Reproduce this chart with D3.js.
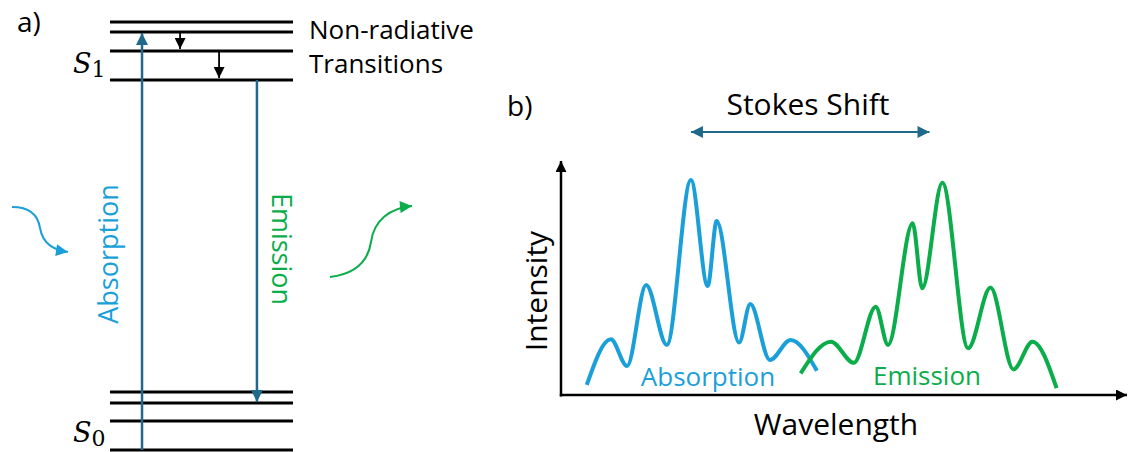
<!DOCTYPE html>
<html>
<head>
<meta charset="utf-8">
<script src="https://cdn.jsdelivr.net/npm/d3@7"></script>
<style>
  body { margin: 0; background: #fff; }
  text { font-family: "Open Sans", "Noto Sans", sans-serif; }
</style>
</head>
<body>
<div id="wrapper"></div>
<script>
// energy levels (arbitrary energy units)
var s0Levels = [0, 29, 47, 58];
var s1Levels = [370, 399, 418, 428];
// transitions: x position (fraction of level width), from energy, to energy
var absorptionArrow = {x: 0.175, from: 0, to: 418};
var emissionArrow = {x: 0.803, from: 370, to: 47};
var nonRadiative = [
  {x: 0.383, from: 418, to: 399},
  {x: 0.596, from: 399, to: 370}
];

// spectra (wavelength, intensity), arbitrary units
var absWave = [4.6, 8.9, 11.8, 15.2, 18.9, 23.2, 26.2, 27.8, 31.8, 33.8, 37.3, 41.0, 45.7];
var absInt  = [4.3, 23.7, 12.3, 46.8, 21.3, 91.5, 46.4, 74.0, 22.3, 38.7, 14.9, 23.4, 10.3];
var emWave  = [42.8, 48.2, 52.3, 56.2, 58.4, 62.8, 64.5, 68.1, 72.7, 76.7, 80.8, 84.2, 88.5];
var emInt   = [9.2, 22.7, 13.7, 37.6, 21.3, 73.1, 45.4, 90.3, 19.9, 45.7, 10.9, 22.7, 2.9];
// Stokes shift between the two main peaks
var stokesShift = [23.2, 65.8];

var dark = '#1f6a8a', blue = '#1a9fd9', green = '#0aad4a';

var svg = d3.select('#wrapper').append('svg')
  .attr('width', 1128).attr('height', 452);

var defs = svg.append('defs');
function marker(id, color, w, h) {
  defs.append('marker')
    .attr('id', id).attr('viewBox', '0 0 10 10')
    .attr('refX', 10).attr('refY', 5)
    .attr('markerWidth', w).attr('markerHeight', h)
    .attr('markerUnits', 'userSpaceOnUse')
    .attr('orient', 'auto-start-reverse')
    .append('path').attr('d', 'M0,0L10,5L0,10z').attr('fill', color);
}
marker('arDark', dark, 13, 12);
marker('arBlack', '#000', 11, 11);
marker('arAxis', '#000', 12, 11);
marker('arBlue', blue, 13, 12);
marker('arGreen', green, 13, 12);

// ---------- panel a ----------
var ey = d3.scaleLinear().domain([0, 428]).range([450, 22]);
var lx = d3.scaleLinear().domain([0, 1]).range([110, 293]);

svg.append('g').selectAll('line')
  .data(s0Levels.concat(s1Levels)).enter().append('line')
  .attr('x1', lx(0)).attr('x2', lx(1))
  .attr('y1', function(d){ return ey(d); })
  .attr('y2', function(d){ return ey(d); })
  .style('stroke', '#000').style('stroke-width', '3px');

[absorptionArrow, emissionArrow].forEach(function(a){
  svg.append('line')
    .attr('x1', lx(a.x)).attr('x2', lx(a.x))
    .attr('y1', ey(a.from)).attr('y2', ey(a.to) + (a.to > a.from ? 1 : -1))
    .style('stroke', dark).style('stroke-width', '2.5px')
    .attr('marker-end', 'url(#arDark)');
});
nonRadiative.forEach(function(a){
  svg.append('line')
    .attr('x1', lx(a.x)).attr('x2', lx(a.x))
    .attr('y1', ey(a.from) + 1).attr('y2', ey(a.to) - 2)
    .style('stroke', '#000').style('stroke-width', '1.8px')
    .attr('marker-end', 'url(#arBlack)');
});

svg.append('text').attr('x', 17).attr('y', 32).text('a)')
  .style('font-size', '28px');
svg.append('text').attr('x', 309).attr('y', 39).text('Non-radiative')
  .style('font-size', '26px');
svg.append('text').attr('x', 309).attr('y', 73).text('Transitions')
  .style('font-size', '26px');

function stateLabel(sub, y) {
  var t = svg.append('text').attr('x', 73).attr('y', y)
    .style('font-family', '"DejaVu Serif", serif').style('font-size', '27px');
  t.append('tspan').text('S').style('font-style', 'italic');
  t.append('tspan').attr('dy', 4).text(sub).style('font-size', '22px');
}
stateLabel('1', 73);
stateLabel('0', 442);

svg.append('text')
  .attr('transform', 'translate(118,254) rotate(-90)')
  .attr('text-anchor', 'middle').text('Absorption')
  .style('font-size', '27px').style('fill', blue);
svg.append('text')
  .attr('transform', 'translate(272,249) rotate(90)')
  .attr('text-anchor', 'middle').text('Emission')
  .style('font-size', '27px').style('fill', green);

// wavy photon arrows
svg.append('path')
  .attr('d', 'M12,207 C30,207 38,215 40,228 C43,245 55,250 68,252')
  .style('fill', 'none').style('stroke', blue).style('stroke-width', '2px')
  .attr('marker-end', 'url(#arBlue)');
svg.append('path')
  .attr('d', 'M330,277 C355,274 368,262 371,242 C374,220 390,208 412,206')
  .style('fill', 'none').style('stroke', green).style('stroke-width', '2px')
  .attr('marker-end', 'url(#arGreen)');

// ---------- panel b ----------
var x = d3.scaleLinear().domain([0, 100]).range([561, 1121]);
var y = d3.scaleLinear().domain([0, 100]).range([395, 160]);

svg.append('line')
  .attr('x1', x(0)).attr('y1', y(0) + 1.5).attr('x2', x(0)).attr('y2', y(100) + 1)
  .style('stroke', '#000').style('stroke-width', '2.5px')
  .attr('marker-end', 'url(#arAxis)');
svg.append('line')
  .attr('x1', x(0) - 1.2).attr('y1', y(0)).attr('x2', x(100) + 6).attr('y2', y(0))
  .style('stroke', '#000').style('stroke-width', '2.5px')
  .attr('marker-end', 'url(#arAxis)');

var line = d3.line()
  .x(function(d){ return x(d[0]); })
  .y(function(d){ return y(d[1]); })
  .curve(d3.curveMonotoneX);

svg.append('path').datum(d3.zip(absWave, absInt))
  .attr('d', line)
  .style('fill', 'none').style('stroke', blue).style('stroke-width', '4px');
svg.append('path').datum(d3.zip(emWave, emInt))
  .attr('d', line)
  .style('fill', 'none').style('stroke', green).style('stroke-width', '4px');

svg.append('text').attr('x', 708).attr('y', 386).attr('text-anchor', 'middle')
  .text('Absorption').style('font-size', '26px').style('fill', blue);
svg.append('text').attr('x', 927).attr('y', 385).attr('text-anchor', 'middle')
  .text('Emission').style('font-size', '26px').style('fill', green);

svg.append('text').attr('x', 507).attr('y', 116).text('b)')
  .style('font-size', '28px');
svg.append('text').attr('x', 808).attr('y', 115).attr('text-anchor', 'middle')
  .text('Stokes Shift').style('font-size', '30px');
svg.append('line')
  .attr('x1', x(stokesShift[0])).attr('x2', x(stokesShift[1]))
  .attr('y1', 132).attr('y2', 132)
  .style('stroke', dark).style('stroke-width', '2px')
  .attr('marker-start', 'url(#arDark)').attr('marker-end', 'url(#arDark)');

svg.append('text')
  .attr('transform', 'translate(547,291) rotate(-90)')
  .attr('text-anchor', 'middle').text('Intensity').style('font-size', '30px');
svg.append('text').attr('x', 836).attr('y', 435).attr('text-anchor', 'middle')
  .text('Wavelength').style('font-size', '30px');
</script>
</body>
</html>
